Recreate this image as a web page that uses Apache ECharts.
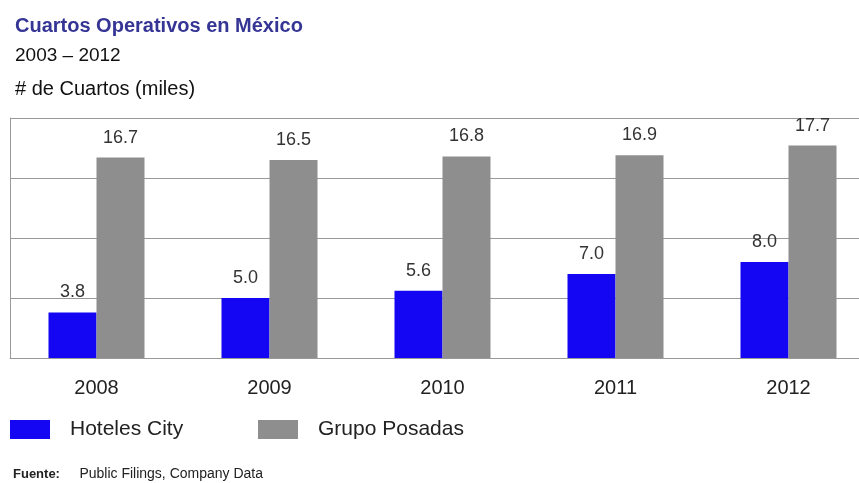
<!DOCTYPE html>
<html>
<head>
<meta charset="utf-8">
<script src="https://cdn.jsdelivr.net/npm/echarts@6/dist/echarts.min.js"></script>
<style>html,body{margin:0;padding:0;background:#fff;}#c{width:859px;height:483px;}</style>
</head>
<body>
<div id="c"></div>
<script>
const categories = ['2008', '2009', '2010', '2011', '2012'];
const hotelesCity = [3.8, 5.0, 5.6, 7.0, 8.0];
const grupoPosadas = [16.7, 16.5, 16.8, 16.9, 17.7];
const seriesNames = ['Hoteles City', 'Grupo Posadas'];

const chart = echarts.init(document.getElementById('c'));
const font = 'Liberation Sans, Arial, sans-serif';
const labelStyle = {
  show: true, position: 'top', distance: 11,
  color: '#333', fontSize: 18, fontFamily: font,
  formatter: p => p.value.toFixed(1)
};
chart.setOption({
  animation: false,
  backgroundColor: '#fff',
  title: [
    { text: 'Cuartos Operativos en México', left: 10, top: 11,
      textStyle: { color: '#353596', fontSize: 20, fontWeight: 'bold', fontFamily: font } },
    { text: '2003 – 2012', left: 10, top: 41,
      textStyle: { color: '#111', fontSize: 19, fontWeight: 'normal', fontFamily: font } },
    { text: '# de Cuartos (miles)', left: 10, top: 74,
      textStyle: { color: '#111', fontSize: 20, fontWeight: 'normal', fontFamily: font } },
    { text: '{b|Fuente:}     Public Filings, Company Data', left: 8, top: 462,
      textStyle: { color: '#222', fontSize: 14, fontWeight: 'normal', fontFamily: font,
        rich: { b: { fontWeight: 'bold', fontSize: 13, color: '#222', fontFamily: font } } } }
  ],
  legend: [
    { data: [seriesNames[0]], left: 10, top: 419, padding: 0, itemWidth: 40, itemHeight: 19,
      icon: 'rect', textStyle: { fontSize: 21, color: '#222', fontFamily: font, padding: [0, 0, 0, 15] } },
    { data: [seriesNames[1]], left: 258, top: 419, padding: 0, itemWidth: 40, itemHeight: 19,
      icon: 'rect', textStyle: { fontSize: 21, color: '#222', fontFamily: font, padding: [0, 0, 0, 15] } }
  ],
  grid: { left: 10, top: 118, width: 865, height: 240, containLabel: false, outerBoundsMode: 'none' },
  xAxis: {
    type: 'category', data: categories,
    axisLine: { show: true, lineStyle: { color: '#999' } },
    axisTick: { show: false },
    axisLabel: { color: '#222', fontSize: 20, fontFamily: font, margin: 20 }
  },
  yAxis: {
    type: 'value', min: 0, max: 20, interval: 5,
    axisLine: { show: true, lineStyle: { color: '#999' } },
    axisTick: { show: false },
    axisLabel: { show: false },
    splitLine: { show: true, lineStyle: { color: '#999', width: 1 } }
  },
  series: [
    { name: seriesNames[0], type: 'bar', data: hotelesCity, barWidth: 48, barGap: '0%',
      itemStyle: { color: '#1405f2' }, label: labelStyle },
    { name: seriesNames[1], type: 'bar', data: grupoPosadas, barWidth: 48, barGap: '0%',
      itemStyle: { color: '#8e8e8e' }, label: labelStyle }
  ]
});
</script>
</body>
</html>
